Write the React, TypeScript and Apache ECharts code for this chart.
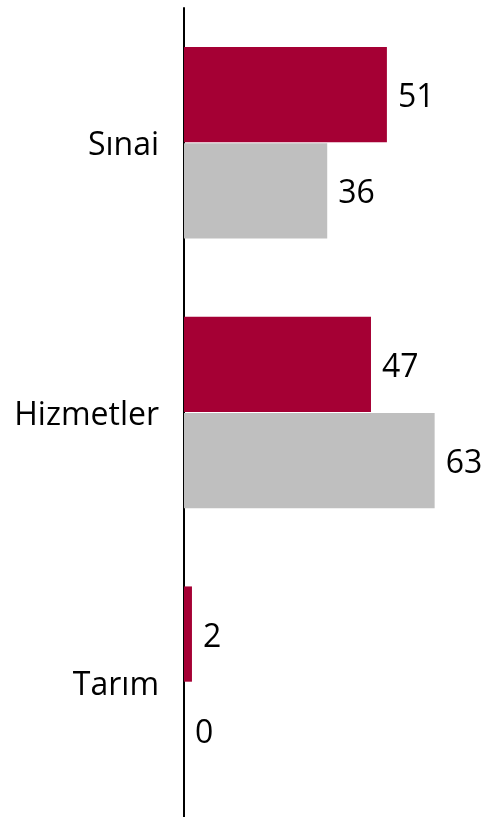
import React, { useEffect, useRef } from "react";
import * as echarts from "echarts";

const categories = ["Sınai", "Hizmetler", "Tarım"];
const seriesRed = [51, 47, 2];
const seriesGray = [36, 63, 0];

export default function App() {
  const ref = useRef<HTMLDivElement>(null);
  useEffect(() => {
    const chart = echarts.init(ref.current!, null, { renderer: "svg" });
    const font = "'Open Sans', sans-serif";
    chart.setOption({
      animation: false,
      grid: { left: 184, top: 8, height: 812, width: 296 },
      xAxis: {
        type: "value",
        min: 0,
        max: 74.4,
        show: false,
      },
      yAxis: {
        type: "category",
        data: categories,
        inverse: true,
        axisLine: { show: true, lineStyle: { color: "#000", width: 2 } },
        axisTick: { show: false },
        axisLabel: { fontSize: 32, color: "#000", margin: 25, fontFamily: font },
      },
      series: [
        {
          type: "bar",
          data: seriesRed,
          barGap: "1%",
          barCategoryGap: "29%",
          itemStyle: { color: "#A50034" },
          label: { show: true, position: "right", distance: 11, fontSize: 32, color: "#000", fontFamily: font },
        },
        {
          type: "bar",
          data: seriesGray,
          itemStyle: { color: "#BFBFBF" },
          label: { show: true, position: "right", distance: 11, fontSize: 32, color: "#000", fontFamily: font },
        },
      ],
    });
    return () => chart.dispose();
  }, []);
  return (
    <div
      ref={ref}
      style={{ position: "fixed", left: 0, top: 0, width: 487, height: 817 }}
    />
  );
}
